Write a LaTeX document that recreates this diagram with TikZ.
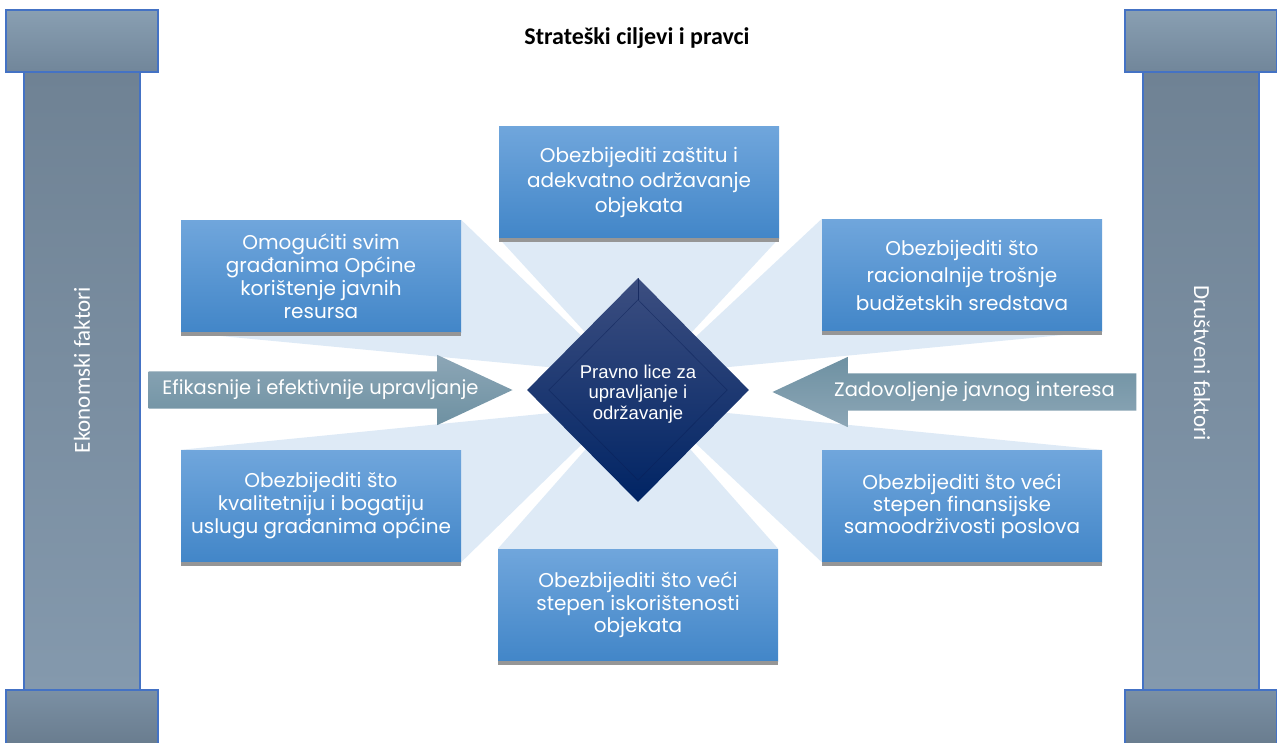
\documentclass[tikz,border=0pt]{standalone}
\usepackage{fontspec}
\setmainfont{Poppins}
\newfontfamily\calibrifont{Carlito}
\newfontfamily\arialfont{Liberation Sans}
\usepackage{xcolor}
\definecolor{boxtop}{RGB}{112,166,220}
\definecolor{boxbottom}{RGB}{66,134,200}
\definecolor{boxshadow}{RGB}{150,150,150}
\definecolor{raylight}{RGB}{222,234,246}
\definecolor{arrowlight}{RGB}{140,166,182}
\definecolor{arrowdark}{RGB}{110,145,162}
\definecolor{hubtop}{RGB}{60,78,128}
\definecolor{hubbottom}{RGB}{0,36,100}
\definecolor{hubline}{RGB}{10,30,85}
\definecolor{pillartop}{RGB}{111,130,148}
\definecolor{pillarbottom}{RGB}{132,153,173}
\definecolor{captop}{RGB}{137,159,178}
\definecolor{capbottom}{RGB}{113,134,154}
\definecolor{basetop}{RGB}{123,144,164}
\definecolor{basebottom}{RGB}{104,123,141}
\definecolor{pillarline}{RGB}{68,114,196}
\usetikzlibrary{shapes.geometric, shapes.arrows, backgrounds, calc}

\begin{document}
\begin{tikzpicture}[
            x=1pt, y=-1pt,
            goalbox/.style={rectangle, minimum width=280pt, minimum height=112pt, inner sep=0pt, top color=boxtop, bottom color=boxbottom, text=white, align=center, font=\fontsize{20}{23}\selectfont},
            hubnode/.style={diamond, minimum width=222pt, minimum height=224pt, inner sep=0pt, top color=hubtop, bottom color=hubbottom},
            hubtext/.style={text=white, align=center, font=\arialfont\fontsize{18.5}{20.5}\selectfont},
            blockarrow/.style={single arrow, single arrow head extend=16.5pt, single arrow tip angle=50, minimum height=364pt, inner xsep=0pt, inner ysep=10pt, text height=13pt, text depth=4pt, text=white, font=\fontsize{19.5}{23}\selectfont},
            pillartext/.style={text=white, font=\calibrifont\fontsize{23}{27}\selectfont},
            pillarpart/.style={draw=pillarline, line width=1.2pt}
            ]
    \useasboundingbox (0,0) rectangle (1277,742);

            % Pillars
            \foreach \px in {6, 1125} {
                \draw[pillarpart, top color=pillartop, bottom color=pillarbottom] (\px+18, 72) rectangle (\px+134, 690);
                \draw[pillarpart, top color=captop, bottom color=capbottom] (\px, 10) rectangle (\px+152, 72);
                \draw[pillarpart, top color=basetop, bottom color=basebottom] (\px, 690) rectangle (\px+152, 748);
            }
            \node[pillartext, rotate=90] (ekon) at (82, 370) {Ekonomski faktori};
            \node[pillartext, rotate=-90] (drus) at (1202, 363) {Društveni faktori};

            % Title
            \node[font=\calibrifont\bfseries\fontsize{24}{28}\selectfont] (title) at (637, 38) {Strateški ciljevi i pravci};

            % Goals
            \node[goalbox, font=\fontsize{20}{25}\selectfont] (gN) at (639, 182) {Obezbijediti zaštitu i\\adekvatno održavanje\\objekata};
            \node[goalbox] (gNW) at (321, 276) {Omogućiti svim\\građanima Općine\\korištenje javnih\\resursa};
            \node[goalbox, font=\fontsize{20}{27.5}\selectfont] (gNE) at (962, 275) {Obezbijediti što\\racionalnije trošnje\\budžetskih sredstava};
            \node[goalbox] (gSW) at (321, 506) {Obezbijediti što\\kvalitetniju i bogatiju\\uslugu građanima općine};
            \node[goalbox, font=\fontsize{20}{22}\selectfont] (gSE) at (962, 506) {Obezbijediti što veći\\stepen finansijske\\samoodrživosti poslova};
            \node[goalbox, font=\fontsize{20}{22.5}\selectfont] (gS) at (638, 605) {Obezbijediti što veći\\stepen iskorištenosti\\objekata};
            \foreach \b in {gN, gNW, gNE, gSW, gSE, gS} {
                \fill[boxshadow] (\b.south west) rectangle ([yshift=-4pt]\b.south east);
            }

            % Centre
            \node[hubnode, label={[hubtext, yshift=-4pt]center:Pravno lice za\\upravljanje i\\održavanje}] (hub) at (638, 390) {};
            \draw[hubline, line width=0.6pt, opacity=0.7] (hub.north) -- ($(hub.north)+(0,22)$);
            \draw[hubline, line width=0.6pt, opacity=0.5] ($(hub.north)+(0,22)$) -- ($(hub.west)+(22,0)$) -- ($(hub.south)+(0,-22)$) -- ($(hub.east)+(-22,0)$) -- cycle;

            % Factor arrows
            \node[blockarrow, anchor=tip, top color=arrowlight, bottom color=arrowdark] (efik) at (513, 390) {\hspace*{10pt}Efikasnije i efektivnije upravljanje\hspace*{-10pt}};
            \node[blockarrow, anchor=tip, shape border rotate=180, top color=arrowdark, bottom color=arrowlight] (zado) at (772, 392) {Zadovoljenje javnog interesa};

            % Rays
            \begin{scope}[on background layer]
                \fill[raylight] (gN.south west) -- (hub.center) -- (gN.south east) -- cycle;
                \fill[raylight] (gS.north west) -- (hub.center) -- (gS.north east) -- cycle;
                \fill[raylight] (gNW.north east) -- ($(hub.center)+(-17,-16)$) -- (gNW.south west) -- cycle;
                \fill[raylight] (gSW.south east) -- ($(hub.center)+(-17,16)$) -- (gSW.north west) -- cycle;
                \fill[raylight] (gNE.north west) -- ($(hub.center)+(18,-16)$) -- (gNE.south east) -- cycle;
                \fill[raylight] (gSE.south west) -- ($(hub.center)+(18,16)$) -- (gSE.north east) -- cycle;
            \end{scope}
\end{tikzpicture}
\end{document}
